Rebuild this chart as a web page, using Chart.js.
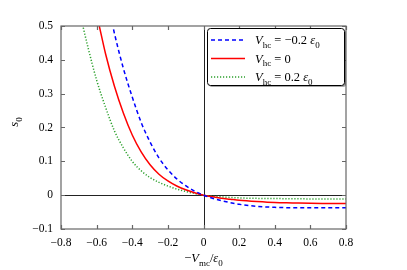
<!DOCTYPE html>
<html>
<head>
<meta charset="utf-8">
<script src="https://cdn.jsdelivr.net/npm/chart.js@4/dist/chart.umd.min.js"></script>
<style>
  html, body { margin: 0; padding: 0; background: #fff; }
  #wrap { width: 407px; height: 270px; }
</style>
</head>
<body>
<div id="wrap"><canvas id="c" width="407" height="270"></canvas></div>
<script>
// s0 vs -Vmc/eps0 for three values of Vhc
const blueX = [-0.505, -0.5, -0.45, -0.4, -0.35, -0.3, -0.25, -0.2, -0.15, -0.1, -0.05, 0, 0.05, 0.1, 0.15, 0.2, 0.3, 0.4, 0.5, 0.6, 0.7, 0.8];
const blueY = [0.49, 0.478, 0.375, 0.29, 0.215, 0.157, 0.11, 0.075, 0.048, 0.028, 0.012, 0, -0.009, -0.016, -0.022, -0.027, -0.033, -0.036, -0.037, -0.037, -0.037, -0.037];

const redX = [-0.585, -0.55, -0.5, -0.45, -0.4, -0.35, -0.3, -0.25, -0.2, -0.15, -0.1, -0.05, 0, 0.05, 0.1, 0.15, 0.2, 0.3, 0.4, 0.5, 0.6, 0.7, 0.8];
const redY = [0.5, 0.418, 0.322, 0.243, 0.178, 0.128, 0.09, 0.062, 0.042, 0.027, 0.016, 0.007, 0, -0.005, -0.009, -0.012, -0.015, -0.019, -0.022, -0.023, -0.024, -0.0245, -0.025];

const greenX = [-0.675, -0.65, -0.6, -0.55, -0.5, -0.45, -0.4, -0.35, -0.3, -0.25, -0.2, -0.15, -0.1, -0.05, 0, 0.05, 0.1, 0.2, 0.3, 0.4, 0.6, 0.8];
const greenY = [0.495, 0.44, 0.34, 0.26, 0.19, 0.14, 0.1, 0.072, 0.052, 0.038, 0.027, 0.018, 0.011, 0.005, 0, -0.003, -0.005, -0.008, -0.0095, -0.01, -0.011, -0.011];

const xTicks = [-0.8, -0.6, -0.4, -0.2, 0, 0.2, 0.4, 0.6, 0.8];
const yTicks = [-0.1, 0, 0.1, 0.2, 0.3, 0.4, 0.5];

const legendRows = [
  { val: ' = \u22120.2 ', eps: true, color: '#0000ff', dash: [4, 3], width: 1.5 },
  { val: ' = 0', eps: false, color: '#ff0000', dash: [], width: 1.5 },
  { val: ' = 0.2 ', eps: true, color: '#2ca02c', dash: [1.2, 1.8], width: 1.5 },
];

const FONT = '"Liberation Serif", "DejaVu Serif", serif';

function pts(xs, ys) { return xs.map((x, i) => ({ x, y: ys[i] })); }
function fmt(v) {
  const s = String(Math.round(v * 10) / 10);
  return s.replace('-', '\u2212');
}

// draw a run of text pieces; sub pieces get smaller and lowered
function drawMath(ctx, parts, x, y, size) {
  let cx = x;
  parts.forEach((p) => {
    const fs = p.sub ? size * 0.72 : size;
    ctx.font = (p.it ? 'italic ' : '') + fs + 'px ' + FONT;
    ctx.fillText(p.t, cx, y + (p.sub ? size * 0.28 : 0));
    cx += ctx.measureText(p.t).width;
  });
  return cx - x;
}
function mathWidth(ctx, parts, size) {
  let w = 0;
  parts.forEach((p) => {
    const fs = p.sub ? size * 0.72 : size;
    ctx.font = (p.it ? 'italic ' : '') + fs + 'px ' + FONT;
    w += ctx.measureText(p.t).width;
  });
  return w;
}

const decor = {
  id: 'decor',
  beforeDatasetsDraw(chart) {
    const { ctx, chartArea: a, scales: { x, y } } = chart;
    ctx.save();
    ctx.strokeStyle = '#222';
    ctx.lineWidth = 1;
    const x0 = Math.round(x.getPixelForValue(0)) + 0.5;
    const y0 = Math.round(y.getPixelForValue(0)) + 0.5;
    ctx.beginPath();
    ctx.moveTo(x0, a.top); ctx.lineTo(x0, a.bottom);
    ctx.moveTo(a.left, y0); ctx.lineTo(a.right, y0);
    ctx.stroke();
    ctx.restore();
  },
  afterDraw(chart) {
    const { ctx, chartArea: a, scales: { x, y } } = chart;
    ctx.save();
    // frame
    ctx.strokeStyle = '#666';
    ctx.lineWidth = 1.2;
    ctx.strokeRect(a.left, a.top, a.right - a.left, a.bottom - a.top);
    // inward ticks on all four sides
    ctx.beginPath();
    xTicks.forEach((v) => {
      const px = Math.round(x.getPixelForValue(v)) + 0.5;
      ctx.moveTo(px, a.bottom); ctx.lineTo(px, a.bottom - 4);
      ctx.moveTo(px, a.top); ctx.lineTo(px, a.top + 4);
    });
    yTicks.forEach((v) => {
      const py = Math.round(y.getPixelForValue(v)) + 0.5;
      ctx.moveTo(a.left, py); ctx.lineTo(a.left + 4, py);
      ctx.moveTo(a.right, py); ctx.lineTo(a.right - 4, py);
    });
    ctx.stroke();

    // axis titles
    ctx.fillStyle = '#000';
    ctx.textBaseline = 'alphabetic';
    const xt = [{ t: '\u2212', it: false }, { t: 'V', it: true }, { t: 'mc', sub: true }, { t: '/', it: false }, { t: '\u03b5', it: true }, { t: '0', sub: true }];
    const w = mathWidth(ctx, xt, 12.5);
    drawMath(ctx, xt, (a.left + a.right) / 2 - w / 2, 262, 12.5);

    ctx.save();
    ctx.translate(18, 122);
    ctx.rotate(-Math.PI / 2);
    const yt = [{ t: 's', it: true }, { t: '0', sub: true }];
    drawMath(ctx, yt, -mathWidth(ctx, yt, 12.5) / 2, 0, 12.5);
    ctx.restore();

    // legend box with shadow
    const bx = 207, by = 28, bw = 137, bh = 57;
    ctx.fillStyle = 'rgba(0,0,0,0.35)';
    ctx.beginPath(); ctx.roundRect(bx + 2, by + 2, bw, bh, 3); ctx.fill();
    ctx.fillStyle = '#fff';
    ctx.strokeStyle = '#000';
    ctx.lineWidth = 1;
    ctx.beginPath(); ctx.roundRect(bx + 0.5, by + 0.5, bw, bh, 3); ctx.fill(); ctx.stroke();

    legendRows.forEach((r, i) => {
      const ry = by + 12 + i * 18.5;
      ctx.strokeStyle = r.color;
      ctx.lineWidth = r.width;
      ctx.setLineDash(r.dash);
      ctx.beginPath(); ctx.moveTo(211, ry); ctx.lineTo(245, ry); ctx.stroke();
      ctx.setLineDash([]);
      ctx.fillStyle = '#000';
      const parts = [{ t: 'V', it: true }, { t: 'hc', sub: true }, { t: r.val, it: false }];
      if (r.eps) { parts.push({ t: '\u03b5', it: true }); parts.push({ t: '0', sub: true }); }
      drawMath(ctx, parts, 255, ry + 4, 12.5);
    });
    ctx.restore();
  },
};

new Chart(document.getElementById('c'), {
  type: 'scatter',
  data: {
    datasets: [
      { data: pts(blueX, blueY), borderColor: '#0000ff', borderWidth: 1.5, borderDash: [4, 3] },
      { data: pts(redX, redY), borderColor: '#ff0000', borderWidth: 1.5 },
      { data: pts(greenX, greenY), borderColor: '#2ca02c', borderWidth: 1.5, borderDash: [1.2, 1.8] },
    ].map((d) => Object.assign(d, { showLine: true, pointRadius: 0, cubicInterpolationMode: 'monotone', fill: false })),
  },
  plugins: [decor],
  options: {
    responsive: false,
    animation: false,
    events: [],
    layout: { padding: { top: 26, right: 61, left: 0, bottom: 0 } },
    plugins: { legend: { display: false }, tooltip: { enabled: false } },
    scales: {
      x: {
        type: 'linear', min: -0.8, max: 0.8,
        afterBuildTicks: (s) => { s.ticks = xTicks.map((v) => ({ value: v })); },
        afterFit: (s) => { s.height = 41; },
        grid: { display: false, drawTicks: false },
        border: { display: false },
        ticks: { color: '#000', padding: 7, maxRotation: 0, font: { family: FONT, size: 11.5 }, callback: (v) => fmt(v) },
      },
      y: {
        type: 'linear', min: -0.1, max: 0.5,
        afterBuildTicks: (s) => { s.ticks = yTicks.map((v) => ({ value: v })); },
        afterFit: (s) => { s.width = 61; },
        grid: { display: false, drawTicks: false },
        border: { display: false },
        ticks: { color: '#000', padding: 8, font: { family: FONT, size: 11.5 }, callback: (v) => fmt(v) },
      },
    },
  },
});
</script>
</body>
</html>
